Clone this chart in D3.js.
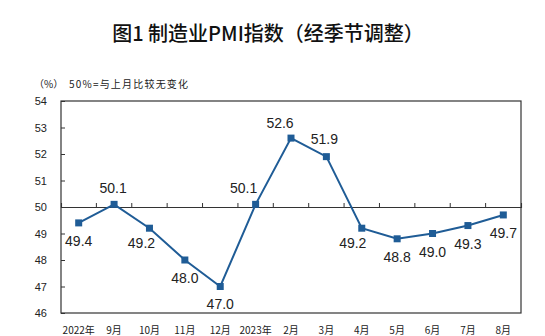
<!DOCTYPE html>
<html>
<head>
<meta charset="utf-8">
<script src="https://cdn.jsdelivr.net/npm/d3@7"></script>
<style>
  html, body { margin: 0; padding: 0; background: #fff; }
  svg { display: block; }
</style>
</head>
<body>
<svg id="chart" width="545" height="336"></svg>
<script>
// Manufacturing PMI, seasonally adjusted, Aug 2022 – Aug 2023
const categories = ["2022年", "9月", "10月", "11月", "12月", "2023年", "2月", "3月", "4月", "5月", "6月", "7月", "8月"];
const pmiValues = [49.4, 50.1, 49.2, 48.0, 47.0, 50.1, 52.6, 51.9, 49.2, 48.8, 49.0, 49.3, 49.7];
const yTicks = [46, 47, 48, 49, 50, 51, 52, 53, 54];
// where each value label sits relative to its point (dx, dy in px)
const labelOffsets = [[0, 18], [-1, -16], [-8, 15], [0, 18], [0, 17], [-12, -16], [-11, -15], [-2, -18], [-9, 15], [0, 18], [0, 18], [0, 18], [0, 18]];

const svg = d3.select("#chart");
const plotLeft = 61, plotRight = 521, plotTop = 101, plotBottom = 313;
const lineColor = "#1f5c96";

const x = d3.scaleBand().domain(categories).range([plotLeft, plotRight]).padding(0);
const y = d3.scaleLinear().domain([46, 54]).range([plotBottom, plotTop]);
const cx = c => x(c) + x.bandwidth() / 2;

// title
svg.append("text")
  .attr("x", 268).attr("y", 41)
  .attr("text-anchor", "middle")
  .attr("font-family", "'Noto Sans CJK SC', sans-serif")
  .attr("font-weight", 500)
  .attr("font-size", 20)
  .attr("fill", "#111")
  .text("图1  制造业PMI指数（经季节调整）");

// unit + note
svg.append("text")
  .attr("x", 34).attr("y", 88)
  .attr("font-family", "'Noto Sans CJK SC', sans-serif")
  .attr("font-size", 10)
  .attr("fill", "#222")
  .text("（%）");
svg.append("text")
  .attr("x", 69).attr("y", 88)
  .attr("font-family", "'Noto Sans CJK SC', sans-serif")
  .attr("font-size", 10)
  .attr("letter-spacing", 1.2)
  .attr("fill", "#222")
  .text("50%=与上月比较无变化");

// plot frame
svg.append("rect")
  .attr("x", plotLeft).attr("y", plotTop)
  .attr("width", plotRight - plotLeft).attr("height", plotBottom - plotTop)
  .attr("fill", "none").attr("stroke", "#333").attr("stroke-width", 1.2);

// y axis with inward ticks
const yAxis = svg.append("g")
  .attr("transform", `translate(${plotLeft},0)`)
  .call(d3.axisLeft(y).tickValues(yTicks).tickSize(-4).tickPadding(14).tickFormat(d3.format("d")));
yAxis.select(".domain").remove();
yAxis.selectAll(".tick line").attr("stroke", "#333");
yAxis.selectAll("text")
  .attr("font-family", "'Liberation Sans', Arial, sans-serif")
  .attr("font-size", 11)
  .attr("fill", "#222");

// 50 reference line with category boundary ticks
const midAxis = svg.append("g")
  .attr("transform", `translate(0,${y(50)})`)
  .call(d3.axisTop(x).tickSize(4).tickFormat(""));
midAxis.select(".domain").attr("stroke", "#333").attr("stroke-width", 1.1);
midAxis.selectAll(".tick line")
  .attr("transform", `translate(${x.bandwidth() / 2},0)`)
  .attr("stroke", "#333");
midAxis.selectAll(".tick").filter((d, i) => i === categories.length - 1).remove();

// x category labels
svg.append("g")
  .selectAll("text")
  .data(categories)
  .join("text")
  .attr("x", d => cx(d))
  .attr("y", 334)
  .attr("text-anchor", "middle")
  .attr("font-family", "'Noto Sans CJK SC', sans-serif")
  .attr("font-size", 10)
  .attr("fill", "#222")
  .text(d => d);

const pts = categories.map((c, i) => ({ c, v: pmiValues[i], i }));

// line
svg.append("path")
  .datum(pts)
  .attr("fill", "none")
  .attr("stroke", lineColor)
  .attr("stroke-width", 2)
  .attr("d", d3.line().x(d => cx(d.c)).y(d => y(d.v)));

// square markers
svg.append("g")
  .selectAll("rect")
  .data(pts)
  .join("rect")
  .attr("x", d => cx(d.c) - 3.5)
  .attr("y", d => y(d.v) - 3.5)
  .attr("width", 7).attr("height", 7)
  .attr("fill", lineColor);

// value labels
svg.append("g")
  .selectAll("text")
  .data(pts)
  .join("text")
  .attr("x", d => cx(d.c) + labelOffsets[d.i][0])
  .attr("y", d => y(d.v) + labelOffsets[d.i][1])
  .attr("dy", "0.36em")
  .attr("text-anchor", "middle")
  .attr("font-family", "'Liberation Sans', Arial, sans-serif")
  .attr("font-size", 14)
  .attr("fill", "#222")
  .text(d => d3.format(".1f")(d.v));
</script>
</body>
</html>
